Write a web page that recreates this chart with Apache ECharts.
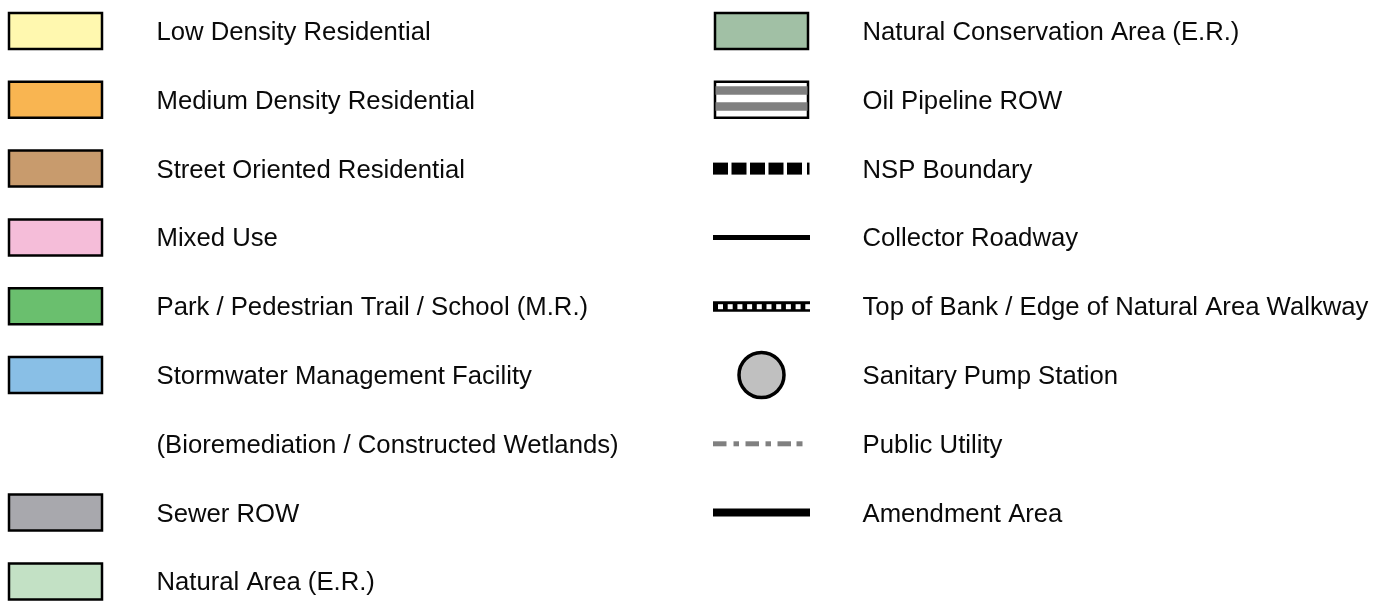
<!DOCTYPE html>
<html>
<head>
<meta charset="utf-8">
<script src="https://cdn.jsdelivr.net/npm/echarts@6/dist/echarts.min.js"></script>
<style>
  html, body { margin: 0; padding: 0; background: #fff; }
  #main { width: 1388px; height: 614px; }
</style>
</head>
<body>
<div id="main"></div>
<script>
// legend rows, left column
var leftLabels = [
  'Low Density Residential',
  'Medium Density Residential',
  'Street Oriented Residential',
  'Mixed Use',
  'Park / Pedestrian Trail / School (M.R.)',
  'Stormwater Management Facility',
  '(Bioremediation / Constructed Wetlands)',
  'Sewer ROW',
  'Natural Area (E.R.)'
];
var leftKinds = ['lowres', 'medres', 'street', 'mixed', 'park', 'storm', 'none', 'sewer', 'natural'];

// legend rows, right column
var rightLabels = [
  'Natural Conservation Area (E.R.)',
  'Oil Pipeline ROW',
  'NSP Boundary',
  'Collector Roadway',
  'Top of Bank / Edge of Natural Area Walkway',
  'Sanitary Pump Station',
  'Public Utility',
  'Amendment Area'
];
var rightKinds = ['conservation', 'pipeline', 'nsp', 'collector', 'bank', 'pump', 'utility', 'amendment'];

// fill colours for swatches
var swatchFill = {
  lowres: '#FFF8AF',
  medres: '#F9B551',
  street: '#C89B6D',
  mixed: '#F5BDD9',
  park: '#6ABF6E',
  storm: '#89BFE6',
  sewer: '#A8A8AD',
  natural: '#C3E1C5',
  conservation: '#A1C0A5'
};

var rows = [];
leftLabels.forEach(function (t, i) { rows.push([0, i, leftKinds[i], t]); });
rightLabels.forEach(function (t, i) { rows.push([1, i, rightKinds[i], t]); });

function drawSymbol(kind, cx, cy) {
  var out = [];
  if (swatchFill[kind]) {
    out.push({ type: 'rect', shape: { x: cx - 46.5, y: cy - 18, width: 93, height: 36 },
      style: { fill: swatchFill[kind], stroke: '#000', lineWidth: 2.5 } });
  } else if (kind === 'pipeline') {
    out.push({ type: 'rect', shape: { x: cx - 46.5, y: cy - 18, width: 93, height: 36 },
      style: { fill: '#fff', stroke: '#000', lineWidth: 2.5 } });
    out.push({ type: 'rect', shape: { x: cx - 46, y: cy - 13.5, width: 92, height: 8.5 }, style: { fill: '#808080' } });
    out.push({ type: 'rect', shape: { x: cx - 46, y: cy + 2.5, width: 92, height: 8.5 }, style: { fill: '#808080' } });
  } else if (kind === 'nsp') {
    var x = cx - 48.5;
    for (var k = 0; k < 5; k++) {
      out.push({ type: 'rect', shape: { x: x + k * 18.5, y: cy - 6, width: 15, height: 12 }, style: { fill: '#000' } });
    }
    out.push({ type: 'rect', shape: { x: cx + 45.5, y: cy - 6, width: 2.5, height: 12 }, style: { fill: '#000' } });
  } else if (kind === 'collector') {
    out.push({ type: 'rect', shape: { x: cx - 48.5, y: cy - 2.5, width: 97, height: 5 }, style: { fill: '#000' } });
  } else if (kind === 'bank') {
    out.push({ type: 'rect', shape: { x: cx - 48.5, y: cy - 5, width: 97, height: 10.5 }, style: { fill: '#000' } });
    for (var j = 0; j < 10; j++) {
      out.push({ type: 'rect', shape: { x: cx - 43.5 + j * 9.7, y: cy - 2, width: 5, height: 5 }, style: { fill: '#fff' } });
    }
  } else if (kind === 'pump') {
    out.push({ type: 'circle', shape: { cx: cx, cy: cy, r: 22.5 },
      style: { fill: '#C0C0C0', stroke: '#000', lineWidth: 3.5 } });
  } else if (kind === 'utility') {
    var dashes = [[0, 13.5], [20.5, 5.5], [32.5, 13.5], [52.5, 5.5], [64.5, 13.5], [83.5, 6]];
    dashes.forEach(function (d) {
      out.push({ type: 'rect', shape: { x: cx - 48.5 + d[0], y: cy - 2.5, width: d[1], height: 5 }, style: { fill: '#808080' } });
    });
  } else if (kind === 'amendment') {
    out.push({ type: 'rect', shape: { x: cx - 48.5, y: cy - 4, width: 97, height: 8 }, style: { fill: '#000' } });
  }
  return out;
}

var chart = echarts.init(document.getElementById('main'));
chart.setOption({
  animation: false,
  grid: { left: 55.5, right: 626.5, top: 31, bottom: 32.6 },
  xAxis: { type: 'value', min: 0, max: 1, show: false },
  yAxis: { type: 'value', min: 0, max: 8, inverse: true, show: false },
  series: [{
    type: 'custom',
    silent: true,
    data: rows,
    renderItem: function (params, api) {
      var row = rows[params.dataIndex];
      var p = api.coord([row[0], row[1]]);
      var kids = drawSymbol(row[2], p[0], p[1]);
      kids.push({
        type: 'text',
        style: {
          x: p[0] + 101, y: p[1] + 2,
          text: row[3],
          fill: '#0a0a0a',
          font: '25.7px "Liberation Sans", Arial, sans-serif',
          textAlign: 'left',
          textVerticalAlign: 'middle'
        }
      });
      return { type: 'group', children: kids };
    }
  }]
});
</script>
</body>
</html>
